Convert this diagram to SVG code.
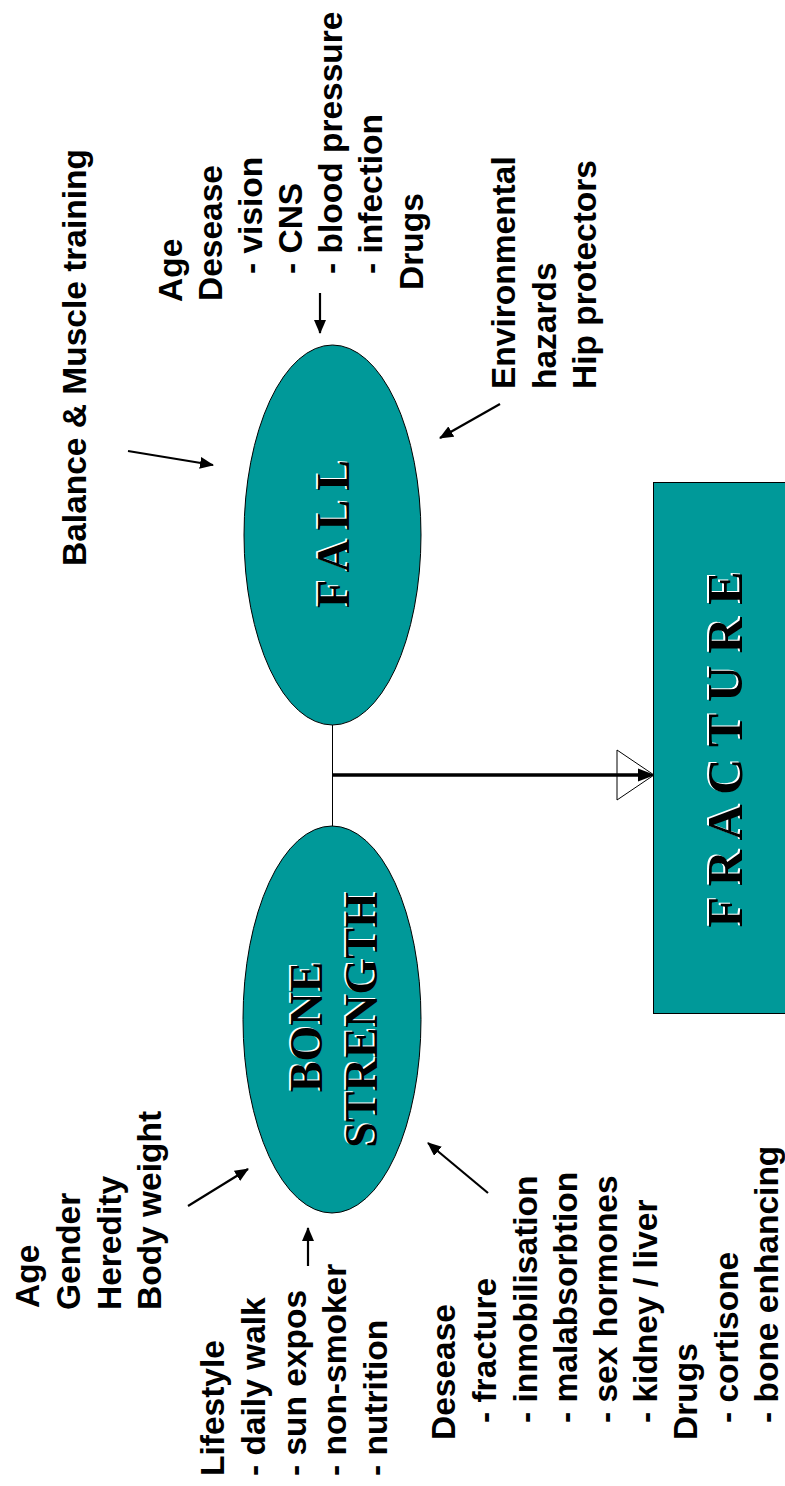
<svg xmlns="http://www.w3.org/2000/svg" width="785" height="1486" viewBox="0 0 785 1486">
<defs>
<style>
.lbl{font-family:"Liberation Sans",Arial,sans-serif;font-weight:bold;font-size:33.5px;fill:#000}
.ttl{font-family:"Liberation Serif","Times New Roman",serif;font-weight:bold;font-size:46px;text-anchor:middle}
.blk{fill:#000}
.wht{fill:#fff}
.shape{fill:#009999;stroke:#000;stroke-width:1}
.arr{stroke:#000;stroke-width:2.2;fill:none;marker-end:url(#ah)}
</style>
<marker id="ah" markerUnits="userSpaceOnUse" viewBox="0 0 14 12" refX="13" refY="6" markerWidth="14" markerHeight="12" orient="auto">
<path d="M0,0 L14,6 L0,12 Z" fill="#000"/>
</marker>
</defs>
<rect x="0" y="0" width="785" height="1486" fill="#fff"/>

<g id="connectors">
<line x1="332.5" y1="725" x2="332.5" y2="826" stroke="#000" stroke-width="1"/>
<line x1="333" y1="775" x2="642" y2="775" stroke="#000" stroke-width="3.5"/>
<polygon points="617,750 654,775 617,800" fill="none" stroke="#000" stroke-width="1"/>
<polygon points="638,768.5 655,775 638,781.5" fill="#000"/>
<line class="arr" x1="128" y1="451" x2="213" y2="465"/>
<line class="arr" x1="320" y1="293" x2="320" y2="333"/>
<line class="arr" x1="500" y1="404" x2="440" y2="438"/>
<line class="arr" x1="188" y1="1206" x2="248" y2="1169"/>
<line class="arr" x1="308" y1="1266" x2="308" y2="1228"/>
<line class="arr" x1="488" y1="1193" x2="428" y2="1143"/>
</g>

<g id="fall">
<ellipse class="shape" cx="332.5" cy="535" rx="88.5" ry="190"/>
<g transform="rotate(-90)">
<text class="ttl wht" x="-533" y="347">F A L L</text>
<text class="ttl blk" x="-534" y="349">F A L L</text>
</g>
</g>

<g id="bone-strength">
<ellipse class="shape" cx="332" cy="1019.5" rx="89" ry="193.5"/>
<g transform="rotate(-90)">
<text class="ttl wht" x="-1026" y="320">BONE</text>
<text class="ttl blk" x="-1027" y="322">BONE</text>
<text class="ttl wht" x="-1019" y="375">STRENGTH</text>
<text class="ttl blk" x="-1020" y="377">STRENGTH</text>
</g>
</g>

<g id="fracture">
<rect class="shape" x="653.5" y="482.5" width="140" height="531" stroke="#333"/>
<g transform="rotate(-90)">
<text class="ttl wht" x="-748.5" y="740" style="font-size:50px">F R A C T U R E</text>
<text class="ttl blk" x="-749.5" y="742" style="font-size:50px">F R A C T U R E</text>
</g>
</g>

<g id="balance-label">
<text class="lbl" transform="rotate(-90)" x="-566" y="86">Balance &amp; Muscle training</text>
</g>

<g id="fall-factors">
<text class="lbl" transform="rotate(-90)">
<tspan x="-302" y="182">Age</tspan>
<tspan x="-301" y="222">Desease</tspan>
<tspan x="-274" y="262">- vision</tspan>
<tspan x="-274" y="302">- CNS</tspan>
<tspan x="-274" y="342">- blood pressure</tspan>
<tspan x="-274" y="382">- infection</tspan>
<tspan x="-290" y="423">Drugs</tspan>
</text>
</g>

<g id="environment-label">
<text class="lbl" transform="rotate(-90)">
<tspan x="-389" y="515">Environmental</tspan>
<tspan x="-389" y="556">hazards</tspan>
<tspan x="-389" y="596">Hip protectors</tspan>
</text>
</g>

<g id="bone-factors-general">
<text class="lbl" transform="rotate(-90)">
<tspan x="-1308" y="39">Age</tspan>
<tspan x="-1310" y="80">Gender</tspan>
<tspan x="-1310" y="121">Heredity</tspan>
<tspan x="-1310" y="161">Body weight</tspan>
</text>
</g>

<g id="lifestyle-label">
<text class="lbl" transform="rotate(-90)">
<tspan x="-1476" y="224">Lifestyle</tspan>
<tspan x="-1476" y="265">- daily walk</tspan>
<tspan x="-1476" y="305.5">- sun expos</tspan>
<tspan x="-1476" y="346">- non-smoker</tspan>
<tspan x="-1476" y="386.5">- nutrition</tspan>
</text>
</g>

<g id="bone-disease-label">
<text class="lbl" transform="rotate(-90)">
<tspan x="-1440" y="455">Desease</tspan>
<tspan x="-1423" y="496">- fracture</tspan>
<tspan x="-1423" y="537">- inmobilisation</tspan>
<tspan x="-1423" y="577">- malabsorbtion</tspan>
<tspan x="-1423" y="617">- sex hormones</tspan>
<tspan x="-1423" y="657">- kidney / liver</tspan>
<tspan x="-1440" y="697">Drugs</tspan>
<tspan x="-1423" y="738">- cortisone</tspan>
<tspan x="-1423" y="778">- bone enhancing</tspan>
</text>
</g>
</svg>
